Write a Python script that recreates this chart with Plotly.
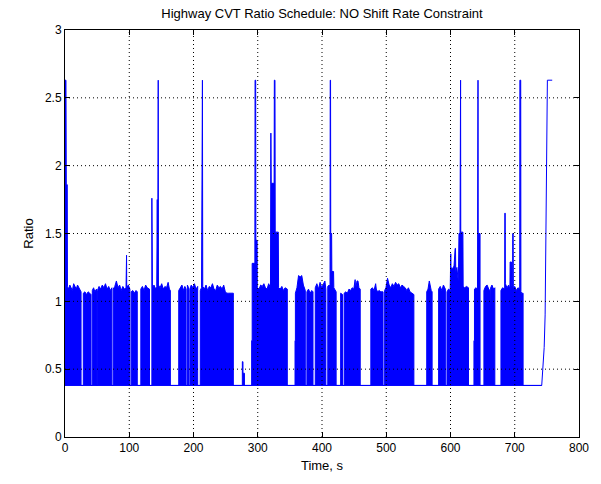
import plotly.graph_objects as go

BASE = 0.38

# Upper envelope of the dense CVT ratio signal (time in s, ratio)
time_s = [
    0, 0, 1.5, 2.0, 3.5, 3.8,
    5.5, 7.5, 9.5, 11.5, 13.5, 15.5, 17.5, 19.5, 21.5, 23.5, 25, 25,
    28.5, 28.5, 31, 33.5, 36, 38.5, 40.5, 40.5,
    42.5, 42.5, 44.5, 46.5, 49, 49, 50.5, 50.5, 53, 55.5, 58, 60.5, 63, 65.5, 68, 70.5, 73, 73,
    75, 75, 77.5, 80, 82.5, 85, 87.5, 90, 92.5, 95, 95.3, 95.8, 96.1, 98.5, 101, 101,
    103, 103, 105.5, 108, 110.5, 112.5, 112.5,
    118, 118, 120.5, 123, 125.5, 128, 131.5, 131.5,
    135.2, 135.2, 135.8, 136.1, 138.5, 141, 142.8, 143.1, 143.6, 144.3, 144.6, 145.1, 145.4,
    148, 150.5, 153, 155.5, 158, 160.5, 162.5, 164, 164,
    177, 177, 179.5, 182, 184.5, 186.5, 188.5, 188.5,
    190.5, 190.5, 192.3, 192.3,
    194.3, 194.3, 196.5, 199, 201.5, 204, 206.5, 206.5,
    210.5, 210.5, 212.5, 213.2, 213.9, 214.4, 217, 219.5, 222, 224.5, 227, 229.5, 232, 234.5,
    237, 239.5, 242, 244.5, 247, 249.5, 252, 254.5, 257, 259.5, 262, 262,
    276, 276, 277, 277, 279.3, 279.3,
    290.5, 290.5, 291.3, 291.3, 295.5, 295.8, 296.8, 297.1, 299, 299.3, 302, 304.5, 307, 309.5,
    312, 314.5, 317, 319.8, 320.1, 320.4, 320.9, 321.3, 325.5, 325.8, 326.8, 327.2, 332, 332.4,
    335, 337.5, 340, 342.5, 346, 346,
    358, 358, 358.6, 358.6, 361, 363.5, 366, 368.5, 371, 374, 374,
    376.5, 376.5, 379, 381.5, 384, 386, 386,
    389.5, 389.5, 392, 394.5, 397, 399.5, 402, 404.5, 406, 406,
    409, 409, 411, 412.5, 412.8, 413.3, 413.6, 415, 415.3, 418, 418.4, 420, 422, 422,
    429, 429, 432, 432,
    434.5, 434.5, 437, 439.5, 442, 444.5, 447, 449.5, 451, 451.6, 452.3, 454.5, 456, 457.5, 459.5, 459.5,
    476, 476, 478.5, 481, 483.5, 484.5, 486.5, 489, 491.5, 495, 495,
    497.5, 497.5, 499.5, 502, 504.5, 507, 509.5, 512, 514.5, 517, 519.5, 522, 524.5, 527, 529.5,
    532, 534.5, 537, 539.5, 543, 543,
    563, 563, 565, 567, 568.5, 570, 571.4, 571.4,
    581.5, 581.5, 584, 586.5, 589, 592, 592,
    594.5, 594.5, 597, 599.5, 599.8, 600.4, 600.7, 603, 605.5, 607.2, 607.8, 608.2, 610, 612.2,
    612.7, 613.2, 614.8, 615.1, 615.7, 616, 619.3, 619.7, 622, 625, 628, 628,
    636.5, 636.5, 637.3, 637.3, 639.5, 642, 642.3, 642.8, 643.1, 646, 646,
    652, 652, 654.5, 657, 659.5, 661.5, 662, 662.5, 664.5, 667, 669, 669,
    678.5, 678.5, 681, 684.3, 684.6, 685.1, 685.4, 688, 690.5, 692.5, 692.8, 694.8, 695.1, 696.6,
    696.9, 697.5, 697.8, 700, 702.5, 705, 707.7, 708, 709.3, 709.6, 711, 713, 713,
    742,
]
ratio = [
    BASE, 2.63, 2.63, 1.86, 1.86, 1.11,
    1.09, 1.12, 1.10, 1.08, 1.13, 1.11, 1.09, 1.12, 1.10, 1.08, 1.07, BASE,
    BASE, 1.06, 1.07, 1.05, 1.07, 1.06, 1.05, BASE,
    BASE, 1.08, 1.10, 1.07, 1.09, BASE, BASE, 1.08, 1.11, 1.09, 1.12, 1.10, 1.13, 1.09, 1.11, 1.08, 1.10, BASE,
    BASE, 1.09, 1.11, 1.15, 1.10, 1.12, 1.08, 1.11, 1.09, 1.10, 1.34, 1.34, 1.10, 1.12, 1.09, BASE,
    BASE, 1.07, 1.08, 1.06, 1.08, 1.07, BASE,
    BASE, 1.09, 1.11, 1.08, 1.12, 1.10, 1.09, BASE,
    BASE, 1.76, 1.76, 1.10, 1.12, 1.09, 1.11, 1.75, 1.75, 1.11, 2.63, 2.63, 1.12,
    1.10, 1.13, 1.09, 1.11, 1.10, 1.14, 1.09, 1.08, BASE,
    BASE, 1.08, 1.10, 1.12, 1.08, 1.11, 1.09, BASE,
    BASE, 1.12, 1.10, BASE,
    BASE, 1.09, 1.12, 1.10, 1.13, 1.09, 1.11, BASE,
    BASE, 1.08, 1.10, 2.63, 2.63, 1.11, 1.09, 1.12, 1.08, 1.11, 1.10, 1.13, 1.09, 1.08,
    1.12, 1.10, 1.11, 1.09, 1.12, 1.07, 1.06, 1.06, 1.06, 1.06, 1.06, BASE,
    BASE, 0.555, 0.555, 0.47, 0.47, BASE,
    BASE, 0.71, 0.71, 1.28, 1.28, 2.63, 2.63, 1.45, 1.45, 1.10, 1.09, 1.12, 1.11, 1.13,
    1.10, 1.09, 1.13, 1.10, 2.24, 2.24, 1.87, 1.87, 1.87, 2.63, 2.63, 1.51, 1.51, 1.10,
    1.09, 1.11, 1.08, 1.10, 1.09, BASE,
    BASE, 0.71, 0.71, 1.06, 1.10, 1.19, 1.18, 1.19, 1.12, 1.08, BASE,
    BASE, 1.07, 1.09, 1.06, 1.08, 1.07, BASE,
    BASE, 1.10, 1.13, 1.09, 1.14, 1.10, 1.12, 1.15, 1.09, BASE,
    BASE, 1.11, 1.12, 1.11, 2.63, 2.63, 1.50, 1.50, 1.22, 1.22, 1.10, 1.08, 1.07, BASE,
    BASE, 1.06, 1.05, BASE,
    BASE, 1.06, 1.07, 1.06, 1.09, 1.08, 1.10, 1.09, 1.16, 1.16, 1.09, 1.15, 1.15, 1.10, 1.09, BASE,
    BASE, 1.09, 1.10, 1.08, 1.13, 1.09, 1.07, 1.08, 1.07, 1.07, BASE,
    BASE, 1.08, 1.10, 1.17, 1.12, 1.10, 1.13, 1.11, 1.14, 1.12, 1.13, 1.10, 1.12, 1.11, 1.10,
    1.08, 1.10, 1.07, 1.06, 1.05, BASE,
    BASE, 1.07, 1.09, 1.15, 1.10, 1.08, 1.07, BASE,
    BASE, 1.09, 1.11, 1.08, 1.12, 1.09, BASE,
    BASE, 1.07, 1.09, 1.08, 1.35, 1.35, 1.25, 1.24, 1.26, 1.39, 1.39, 1.22, 1.25, 1.14,
    1.37, 1.50, 1.50, 2.63, 2.63, 1.51, 1.51, 1.11, 1.10, 1.11, 1.10, BASE,
    BASE, 0.71, 0.71, 1.09, 1.10, 1.09, 2.63, 2.63, 1.50, 1.50, BASE,
    BASE, 1.08, 1.11, 1.12, 1.09, 1.08, 0.72, 1.10, 1.12, 1.09, 1.10, BASE,
    BASE, 1.08, 1.10, 1.09, 1.65, 1.65, 1.13, 1.10, 1.12, 1.09, 1.29, 1.29, 1.12, 1.11,
    1.50, 1.50, 1.10, 1.11, 1.08, 1.10, 1.09, 2.63, 2.63, 1.07, 1.06, 1.06, BASE,
    BASE,
]

# Baseline (lowest ratio) held by the signal
base_t = [0, 742]
base_r = [BASE, BASE]

# Final ramp to overdrive at the end of the cycle
ramp_t = [742, 742.8, 744.3, 745.8, 747.3, 748.3, 750.8, 758.3]
ramp_r = [BASE, 0.45, 0.55, 0.66, 0.90, 1.45, 2.63, 2.63]

x_ticks = [0, 100, 200, 300, 400, 500, 600, 700, 800]
y_ticks = [0, 0.5, 1, 1.5, 2, 2.5, 3]

BLUE = "rgb(0,0,255)"
FONT = "Liberation Sans"

fig = go.Figure()
fig.add_trace(go.Scatter(x=base_t, y=base_r, mode="lines",
                         line=dict(color=BLUE, width=1), hoverinfo="skip"))
fig.add_trace(go.Scatter(x=time_s, y=ratio, mode="lines", fill="tonexty",
                         fillcolor=BLUE, line=dict(color=BLUE, width=1)))
fig.add_trace(go.Scatter(x=ramp_t, y=ramp_r, mode="lines",
                         line=dict(color=BLUE, width=1)))

# dotted grid drawn above the data (as in the original)
for xv in x_ticks[1:-1]:
    fig.add_shape(type="line", xref="x", yref="paper", x0=xv, x1=xv, y0=0, y1=1,
                  line=dict(color="black", width=1, dash="1px,3px"), layer="above")
for yv in y_ticks[1:-1]:
    fig.add_shape(type="line", xref="paper", yref="y", x0=0, x1=1, y0=yv, y1=yv,
                  line=dict(color="black", width=1, dash="1px,3px"), layer="above")

axis_common = dict(
    ticks="inside", ticklen=5, tickcolor="black", tickwidth=1,
    showline=True, linecolor="black", linewidth=1, mirror="allticks",
    showgrid=False, zeroline=False, layer="above traces",
    tickfont=dict(family=FONT, size=12, color="black"),
)

fig.update_layout(
    width=601, height=484,
    margin=dict(l=65, r=18, t=30, b=47),
    paper_bgcolor="white", plot_bgcolor="white",
    showlegend=False,
    font=dict(family=FONT, color="black"),
    title=dict(text="Highway CVT Ratio Schedule: NO Shift Rate Constraint",
               x=0.5, xref="paper", xanchor="center",
               y=1 - 13 / 484, yref="container", yanchor="middle",
               font=dict(family=FONT, size=13, color="black")),
    xaxis=dict(range=[0, 800], tickvals=x_ticks,
               title=dict(text="Time, s", font=dict(family=FONT, size=13), standoff=6),
               **axis_common),
    yaxis=dict(range=[0, 3], tickvals=y_ticks,
               ticktext=[f"{v:g}" for v in y_ticks],
               title=dict(text="Ratio", font=dict(family=FONT, size=13), standoff=8),
               **axis_common),
)

fig.write_html("out.html")
